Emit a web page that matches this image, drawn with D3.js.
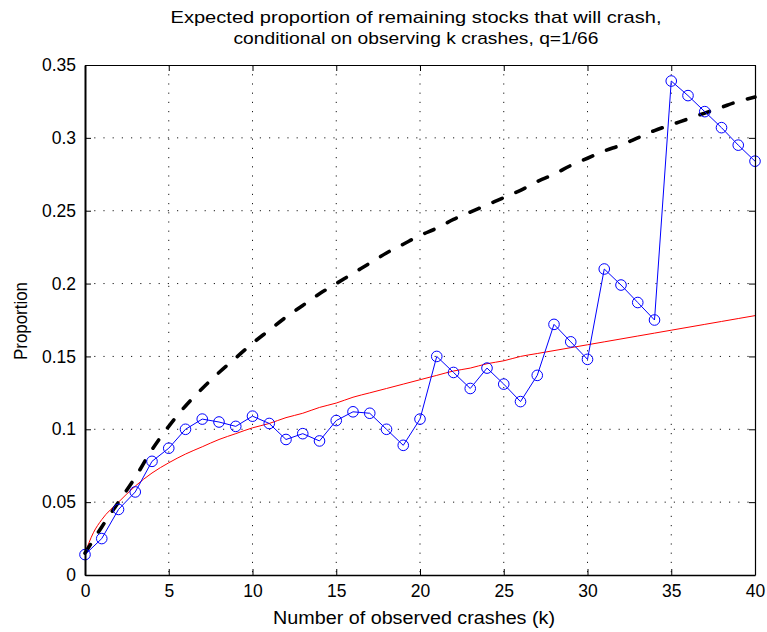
<!DOCTYPE html>
<html>
<head>
<meta charset="utf-8">
<script src="https://cdn.jsdelivr.net/npm/d3@7"></script>
<style>
  html, body { margin: 0; padding: 0; background: #fff; }
  svg { display: block; }
  text { font-family: Arial, "Liberation Sans", Helvetica, sans-serif; fill: #000; }
</style>
</head>
<body>
<svg id="chart" width="767" height="632"></svg>
<script>
// Number of observed crashes k (observed series, one point per k)
const crashes = d3.range(0, 41);

// Observed proportion (blue circles)
const observed = [
  0.014, 0.025, 0.045, 0.057, 0.078, 0.087, 0.100, 0.107, 0.105, 0.102,
  0.109, 0.104, 0.093, 0.097, 0.092, 0.106, 0.112, 0.111, 0.100, 0.089,
  0.107, 0.150, 0.139, 0.128, 0.142, 0.131, 0.119, 0.137, 0.172, 0.160,
  0.148, 0.210, 0.199, 0.187, 0.175, 0.339, 0.329, 0.318, 0.307, 0.295,
  0.284
];

// Expected proportion, upper model (black dashed)
const expectedUpper = [
  0.015, 0.033, 0.050, 0.067, 0.086, 0.102, 0.116, 0.128, 0.139, 0.149,
  0.159, 0.168, 0.177, 0.185, 0.193, 0.200, 0.207, 0.214, 0.221, 0.227,
  0.233, 0.238, 0.244, 0.249, 0.254, 0.259, 0.264, 0.270, 0.275, 0.281,
  0.286, 0.291, 0.295, 0.300, 0.305, 0.309, 0.313, 0.317, 0.321, 0.325,
  0.328
];

// Expected proportion, lower model (red line)
const lowerK = [0, 0.5].concat(d3.range(1, 41));
const expectedLower = [
  0.015, 0.029,
  0.038, 0.050, 0.061, 0.070, 0.077, 0.083, 0.088, 0.093, 0.097,
  0.101, 0.104, 0.108, 0.111, 0.115, 0.118, 0.122, 0.125, 0.128, 0.131,
  0.134, 0.137, 0.140, 0.142, 0.145, 0.147, 0.150, 0.152, 0.154, 0.156,
  0.158, 0.160, 0.162, 0.164, 0.166, 0.168, 0.170, 0.172, 0.174, 0.176,
  0.178
];

const xTicks = [0, 5, 10, 15, 20, 25, 30, 35, 40];
const yTicks = [0, 0.05, 0.1, 0.15, 0.2, 0.25, 0.3, 0.35];
const yTickLabels = ["0", "0.05", "0.1", "0.15", "0.2", "0.25", "0.3", "0.35"];

const titleLines = [
  "Expected proportion of remaining stocks that will crash,",
  "conditional on observing k crashes, q=1/66"
];
const xLabel = "Number of observed crashes (k)";
const yLabel = "Proportion";

const svg = d3.select("#chart");
const plotLeft = 85, plotTop = 65, plotRight = 755, plotBottom = 575;

const x = d3.scaleLinear().domain([0, 40]).range([plotLeft, plotRight]);
const y = d3.scaleLinear().domain([0, 0.35]).range([plotBottom, plotTop]);

// Dotted grid
const grid = svg.append("g")
  .attr("stroke", "#000")
  .attr("stroke-width", 0.9)
  .attr("stroke-dasharray", "1.2,8");
grid.selectAll("line.v").data(xTicks.slice(1, -1)).join("line")
  .attr("class", "v")
  .attr("x1", d => x(d)).attr("x2", d => x(d))
  .attr("y1", plotTop).attr("y2", plotBottom);
grid.selectAll("line.h").data(yTicks.slice(1, -1)).join("line")
  .attr("class", "h")
  .attr("x1", plotLeft).attr("x2", plotRight)
  .attr("y1", d => y(d)).attr("y2", d => y(d));

// Plot clip
svg.append("clipPath").attr("id", "plotClip")
  .append("rect").attr("x", plotLeft - 8).attr("y", plotTop - 8)
  .attr("width", plotRight - plotLeft + 16).attr("height", plotBottom - plotTop + 16);

const plot = svg.append("g").attr("clip-path", "url(#plotClip)");

// Red line
plot.append("path")
  .datum(lowerK.map((k, i) => [k, expectedLower[i]]))
  .attr("fill", "none")
  .attr("stroke", "#ff0000")
  .attr("stroke-width", 1)
  .attr("d", d3.line().x(d => x(d[0])).y(d => y(d[1])).curve(d3.curveMonotoneX));

// Black dashed line
plot.append("path")
  .datum(crashes.map((k, i) => [k, expectedUpper[i]]))
  .attr("fill", "none")
  .attr("stroke", "#000")
  .attr("stroke-width", 3.6)
  .attr("stroke-linecap", "round")
  .attr("stroke-dasharray", "10,15")
  .attr("d", d3.line().x(d => x(d[0])).y(d => y(d[1])).curve(d3.curveMonotoneX));

// Blue observed line with circle markers
plot.append("path")
  .datum(crashes.map((k, i) => [k, observed[i]]))
  .attr("fill", "none")
  .attr("stroke", "#0000ff")
  .attr("stroke-width", 1)
  .attr("d", d3.line().x(d => x(d[0])).y(d => y(d[1])));

plot.selectAll("circle.obs").data(crashes).join("circle")
  .attr("class", "obs")
  .attr("cx", k => x(k))
  .attr("cy", (k, i) => y(observed[i]))
  .attr("r", 5.3)
  .attr("fill", "none")
  .attr("stroke", "#0000ff")
  .attr("stroke-width", 1);

// Axes box with inward ticks on all sides
const tickLen = 6;
const bottomAxis = d3.axisBottom(x).tickValues(xTicks).tickSizeInner(-tickLen).tickSizeOuter(0).tickPadding(10);
const topAxis = d3.axisTop(x).tickValues(xTicks).tickSizeInner(-tickLen).tickSizeOuter(0).tickFormat("");
const leftAxis = d3.axisLeft(y).tickValues(yTicks).tickSizeInner(-tickLen).tickSizeOuter(0).tickPadding(9)
  .tickFormat((d, i) => yTickLabels[i]);
const rightAxis = d3.axisRight(y).tickValues(yTicks).tickSizeInner(-tickLen).tickSizeOuter(0).tickFormat("");

function styleAxis(g, width) {
  g.select(".domain").attr("stroke", "#000").attr("stroke-width", width);
  g.selectAll(".tick line").attr("stroke", "#000").attr("stroke-width", 1);
  g.selectAll(".tick text")
    .attr("font-family", "Arial, 'Liberation Sans', Helvetica, sans-serif")
    .attr("font-size", 17.5).attr("fill", "#000");
}

svg.append("g").attr("transform", `translate(0,${plotTop})`).call(topAxis).call(g => styleAxis(g, 1.2));
svg.append("g").attr("transform", `translate(${plotRight},0)`).call(rightAxis).call(g => styleAxis(g, 1.2));
svg.append("g").attr("transform", `translate(0,${plotBottom})`).call(bottomAxis).call(g => styleAxis(g, 1.6));
svg.append("g").attr("transform", `translate(${plotLeft},0)`).call(leftAxis).call(g => styleAxis(g, 2));

// Title
svg.append("text")
  .attr("x", 416).attr("y", 23)
  .attr("text-anchor", "middle")
  .attr("font-size", 17)
  .attr("textLength", 491).attr("lengthAdjust", "spacingAndGlyphs")
  .text(titleLines[0]);
svg.append("text")
  .attr("x", 416).attr("y", 44)
  .attr("text-anchor", "middle")
  .attr("font-size", 17)
  .attr("textLength", 365).attr("lengthAdjust", "spacingAndGlyphs")
  .text(titleLines[1]);

// Axis labels
svg.append("text")
  .attr("x", 414).attr("y", 624)
  .attr("text-anchor", "middle")
  .attr("font-size", 17.5)
  .attr("textLength", 282).attr("lengthAdjust", "spacingAndGlyphs")
  .text(xLabel);

svg.append("text")
  .attr("transform", "translate(27,321) rotate(-90)")
  .attr("text-anchor", "middle")
  .attr("font-size", 17.5)
  .attr("textLength", 78).attr("lengthAdjust", "spacingAndGlyphs")
  .text(yLabel);
</script>
</body>
</html>
